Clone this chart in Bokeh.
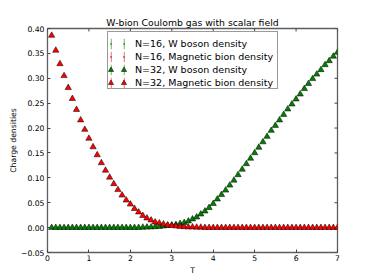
import math
from bokeh.plotting import figure
from bokeh.models import Range1d, FixedTicker, Legend, LegendItem, ColumnDataSource, Title
from bokeh.embed import file_html
from bokeh.resources import INLINE

# ---- data ----
T = [0.1, 0.2, 0.3, 0.4, 0.5, 0.6, 0.7, 0.8, 0.9, 1.0,
     1.1, 1.2, 1.3, 1.4, 1.5, 1.6, 1.7, 1.8, 1.9, 2.0,
     2.1, 2.2, 2.3, 2.4, 2.5, 2.6, 2.7, 2.8, 2.9, 3.0,
     3.1, 3.2, 3.3, 3.4, 3.5, 3.6, 3.7, 3.8, 3.9, 4.0,
     4.1, 4.2, 4.3, 4.4, 4.5, 4.6, 4.7, 4.8, 4.9, 5.0,
     5.1, 5.2, 5.3, 5.4, 5.5, 5.6, 5.7, 5.8, 5.9, 6.0,
     6.1, 6.2, 6.3, 6.4, 6.5, 6.6, 6.7, 6.8, 6.9, 7.0]

w_boson_n32 = [0.0, 0.0, 0.0, 0.0, 0.0, 0.0, 0.0, 0.0, 0.0, 0.0,
               0.0, 0.0, 0.0, 0.0, 0.0, 0.0, 0.0, 0.0, 0.0, 0.0,
               0.0, 0.0, 0.0005, 0.0008, 0.001, 0.0015, 0.002, 0.003, 0.004, 0.005,
               0.006, 0.008, 0.010, 0.013, 0.017, 0.021, 0.027, 0.033, 0.040, 0.048,
               0.057, 0.066, 0.075, 0.085, 0.095, 0.106, 0.117, 0.128, 0.139, 0.150,
               0.161, 0.172, 0.183, 0.195, 0.205, 0.216, 0.227, 0.238, 0.248, 0.258,
               0.268, 0.279, 0.289, 0.299, 0.308, 0.317, 0.327, 0.335, 0.344, 0.352]

mag_bion_n32 = [0.386, 0.356, 0.329, 0.305, 0.281, 0.259, 0.237, 0.216, 0.197, 0.179,
                0.162, 0.146, 0.130, 0.115, 0.101, 0.088, 0.076, 0.065, 0.055, 0.047,
                0.038, 0.031, 0.024, 0.019, 0.015, 0.011, 0.009, 0.007, 0.005, 0.004,
                0.003, 0.002, 0.0015, 0.001, 0.001, 0.0005, 0.0005, 0.0, 0.0, 0.0,
                0.0, 0.0, 0.0, 0.0, 0.0, 0.0, 0.0, 0.0, 0.0, 0.0,
                0.0, 0.0, 0.0, 0.0, 0.0, 0.0, 0.0, 0.0, 0.0, 0.0,
                0.0, 0.0, 0.0, 0.0, 0.0, 0.0, 0.0, 0.0, 0.0, 0.0]

# N=16 points lie under the N=32 triangles (indistinguishable in the picture)
w_boson_n16 = list(w_boson_n32)
mag_bion_n16 = list(mag_bion_n32)

series_labels = ["N=16, W boson density", "N=16, Magnetic bion density",
                 "N=32, W boson density", "N=32, Magnetic bion density"]

x_ticks = [0, 1, 2, 3, 4, 5, 6, 7]
x_tick_labels = ["0", "1", "2", "3", "4", "5", "6", "7"]
y_ticks = [-0.05, 0.0, 0.05, 0.10, 0.15, 0.20, 0.25, 0.30, 0.35, 0.40]
y_tick_labels = ["\u22120.05", "0.00", "0.05", "0.10", "0.15", "0.20",
                 "0.25", "0.30", "0.35", "0.40"]

title_text = "W-bion Coulomb gas with scalar field"
x_label = "T"
y_label = "Charge densities"

X_MIN, X_MAX = 0, 7
Y_MIN, Y_MAX = -0.05, 0.40

# ---- styles ----
FONT = "DejaVu Sans"
GREEN = "#008000"
RED = "#ff0000"
GREEN_ERR = "#8fc88f"
RED_ERR = "#ff8f8f"
SPINE = "#5e5e5e"
TICK = "#444444"
TEXT = "#000000"

p = figure(frame_width=290, frame_height=224,
           x_range=Range1d(X_MIN, X_MAX), y_range=Range1d(Y_MIN, Y_MAX),
           output_backend="svg", toolbar_location=None,
           min_border_left=47, min_border_right=29,
           min_border_top=28, min_border_bottom=20,
           background_fill_color="white", border_fill_color="white")

p.outline_line_color = SPINE
p.outline_line_width = 1.3
p.xgrid.visible = False
p.ygrid.visible = False

p.title.text = title_text
p.title.align = "center"
p.title.text_font = FONT
p.title.text_font_size = "9.3px"
p.title.text_font_style = "normal"
p.title.text_color = TEXT
p.title.standoff = 2


def style_axis(ax, ticks, labels):
    ax.ticker = FixedTicker(ticks=ticks)
    ax.major_label_overrides = {t: l for t, l in zip(ticks, labels)}
    ax.axis_line_color = None
    ax.major_tick_in = 3
    ax.major_tick_out = 0
    ax.major_tick_line_color = TICK
    ax.minor_tick_line_color = None
    ax.major_label_text_font = FONT
    ax.major_label_text_color = TEXT
    ax.major_label_text_font_size = "7.7px"
    ax.major_label_standoff = 3


style_axis(p.xaxis[0], x_ticks, x_tick_labels)
style_axis(p.yaxis[0], y_ticks, y_tick_labels)
p.xaxis[0].major_label_standoff = 2

# inward ticks on the top and right spines (half of each dash is clipped)
p.scatter(x_ticks, [Y_MAX] * len(x_ticks), marker="dash", angle=math.pi / 2,
          size=6, line_color=TICK, line_width=1)
p.scatter([X_MAX] * len(y_ticks), y_ticks, marker="dash",
          size=6, line_color=TICK, line_width=1)

# ---- data glyphs ----
# (zero-size) error bars, drawn first; only their legend swatch is visible
err16w = p.quad(left=T, right=T, top=w_boson_n16, bottom=w_boson_n16,
                fill_color=GREEN_ERR, line_color=None)
err16m = p.quad(left=T, right=T, top=mag_bion_n16, bottom=mag_bion_n16,
                fill_color=RED_ERR, line_color=None)
d16w = p.scatter(T, w_boson_n16, marker="dot", size=9,
                 line_color="#003300", fill_color="#003300")
d16m = p.scatter(T, mag_bion_n16, marker="dot", size=9,
                 line_color="#330000", fill_color="#330000")
err32w = p.quad(left=T, right=T, top=w_boson_n32, bottom=w_boson_n32,
                fill_color=GREEN_ERR, line_color=None)
err32m = p.quad(left=T, right=T, top=mag_bion_n32, bottom=mag_bion_n32,
                fill_color=RED_ERR, line_color=None)
t32w = p.scatter(T, w_boson_n32, marker="triangle", size=6.3,
                 fill_color=GREEN, line_color="black", line_width=0.5)
t32m = p.scatter(T, mag_bion_n32, marker="triangle", size=6.3,
                 fill_color=RED, line_color="black", line_width=0.5)
# zero-size black marks drawn last (reset the fill colour for later text)
p.scatter(T, mag_bion_n32, marker="circle", size=0,
          fill_color="black", line_color="black", line_width=0)

blank = p.scatter(x="x", y="y", source=ColumnDataSource(dict(x=[], y=[])),
                  fill_alpha=0, line_alpha=0)

marker_r = [d16w, d16m, t32w, t32m]
err_rs = [err16w, err16m, err32w, err32m]

LEG_Y = 163          # legend bottom, px above the frame bottom
base = dict(padding=2, spacing=0, glyph_height=13, label_height=13,
            label_text_font=FONT, label_text_font_size="9.5px",
            label_text_color=TEXT, click_policy="none",
            border_line_color=None, background_fill_alpha=0.0)

box = dict(base)
box.update(border_line_color="#333333", border_line_width=1,
           background_fill_color="white", background_fill_alpha=1.0)
legends = [
    Legend(items=[LegendItem(label="", renderers=[blank]) for _ in range(4)],
           location=(60, LEG_Y), glyph_width=13, label_standoff=0,
           label_width=152, **box),
    Legend(items=[LegendItem(label="", renderers=[r]) for r in err_rs],
           location=(63, LEG_Y), glyph_width=2, label_standoff=0,
           label_width=0, **base),
    Legend(items=[LegendItem(label="", renderers=[r]) for r in err_rs],
           location=(76, LEG_Y), glyph_width=2, label_standoff=0,
           label_width=0, **base),
    Legend(items=[LegendItem(label="", renderers=[r]) for r in marker_r],
           location=(57, LEG_Y), glyph_width=13, label_standoff=0,
           label_width=0, **base),
    Legend(items=[LegendItem(label=l, renderers=[r])
                  for l, r in zip(series_labels, marker_r)],
           location=(70, LEG_Y), glyph_width=13, label_standoff=5, **base),
]
for lg in legends:
    p.add_layout(lg, "center")

# axis titles as plain titles (black text)
for side, txt in (("left", y_label), ("below", x_label)):
    p.add_layout(Title(text=txt, align="center", text_font=FONT,
                       text_font_size="7.7px", text_font_style="normal",
                       text_color=TEXT, standoff=0), side)

open("out.html", "w").write(file_html(p, INLINE))
